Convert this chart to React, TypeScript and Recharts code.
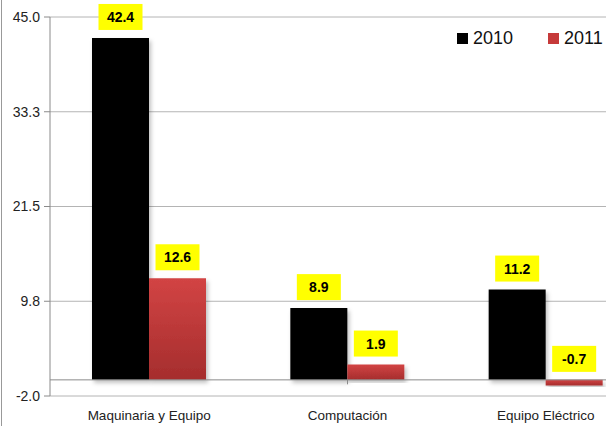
import { BarChart, Bar, XAxis, YAxis, CartesianGrid, ReferenceLine, LabelList } from 'recharts';

const categories = ['Maquinaria y Equipo', 'Computación', 'Equipo Eléctrico'];
const values2010 = [42.4, 8.9, 11.2];
const values2011 = [12.6, 1.9, -0.7];
const seriesNames = ['2010', '2011'];
const seriesColors = ['#000', '#c63a3a'];
const yTicks = [-2, 9.75, 21.5, 33.25, 45];
const boundaries = [1, 2];

const data = categories.map((name, i) => ({
    name,
    y2010: values2010[i],
    y2011: values2011[i],
}));

const FONT = '"Liberation Sans", Arial, sans-serif';

const YellowLabel = (props: any) => {
    const { x, y, width, height, value } = props;
    const top = Math.min(Number(y), Number(y) + Number(height));
    const cx = Number(x) + Number(width) / 2;
    const w = 44;
    const h = 26;
    return (
        <g>
            <rect x={cx - w / 2} y={top - 8 - h} width={w} height={h} fill="#ffff00" />
            <text
                x={cx}
                y={top - 8 - h / 2}
                dy="0.36em"
                textAnchor="middle"
                fontFamily={FONT}
                fontWeight="bold"
                fontSize={14}
                fill="#000"
            >
                {Number(value).toFixed(1)}
            </text>
        </g>
    );
};

const CategoryTick = (props: any) => {
    const { x, y, payload } = props;
    return (
        <text x={x} y={y + 16} textAnchor="middle" fontFamily={FONT} fontSize={13.5} fill="#222">
            {payload.value}
        </text>
    );
};

export default function App() {
    return (
        <div style={{ position: 'fixed', left: 0, top: 0, width: 606, height: 426, overflow: 'hidden', background: '#fff' }}>
            <div style={{ position: 'absolute', left: 1, top: 0, width: 1, height: 426, background: '#999' }} />
            <BarChart
                width={660}
                height={426}
                data={data}
                margin={{ top: 17, right: 15, bottom: 0, left: 0 }}
                barCategoryGap={42}
                barGap={0}
            >
                <defs>
                    <linearGradient id="redGrad" x1="0" y1="0" x2="0" y2="1">
                        <stop offset="0%" stopColor="#d24444" />
                        <stop offset="100%" stopColor="#a52d2d" />
                    </linearGradient>
                    <filter id="barShadow" x="-10%" y="-10%" width="130%" height="130%">
                        <feDropShadow dx="2" dy="3" stdDeviation="2" floodColor="#000" floodOpacity="0.25" />
                    </filter>
                </defs>
                <CartesianGrid vertical={false} stroke="#b4b4b4" />
                <XAxis dataKey="name" axisLine={false} tickLine={false} height={30} tick={<CategoryTick />} interval={0} />
                <XAxis xAxisId="b" type="number" domain={[0, 3]} hide />
                <YAxis
                    width={50}
                    domain={[-2, 45]}
                    ticks={yTicks}
                    interval={0}
                    tickFormatter={(v: number) => v.toFixed(1)}
                    stroke="#8a8a8a"
                    tickSize={6}
                    tickMargin={4}
                    tick={{ fill: '#222', fontSize: 14, fontFamily: FONT }}
                />
                <ReferenceLine y={0} stroke="#8a8a8a" />
                {boundaries.map((b) => (
                    <ReferenceLine
                        key={b}
                        xAxisId="b"
                        segment={[{ x: b, y: 0 }, { x: b, y: -0.55 }]}
                        stroke="#8a8a8a"
                    />
                ))}
                <Bar dataKey="y2010" name="2010" fill="#000" isAnimationActive={false} style={{ filter: 'url(#barShadow)' }}>
                    <LabelList dataKey="y2010" content={<YellowLabel />} />
                </Bar>
                <Bar dataKey="y2011" name="2011" fill="url(#redGrad)" isAnimationActive={false} style={{ filter: 'url(#barShadow)' }}>
                    <LabelList dataKey="y2011" content={<YellowLabel />} />
                </Bar>
            </BarChart>
            <div
                style={{
                    position: 'absolute',
                    left: 457,
                    top: 28,
                    display: 'flex',
                    alignItems: 'center',
                    fontFamily: FONT,
                    fontSize: 18,
                    color: '#111',
                    background: '#fff',
                }}
            >
                {seriesNames.map((n, i) => (
                    <div key={n} style={{ display: 'flex', alignItems: 'center', marginRight: i === 0 ? 35 : 0 }}>
                        <span style={{ display: 'inline-block', width: 11, height: 11, background: seriesColors[i], marginRight: 5 }} />
                        <span>{n}</span>
                    </div>
                ))}
            </div>
        </div>
    );
}
